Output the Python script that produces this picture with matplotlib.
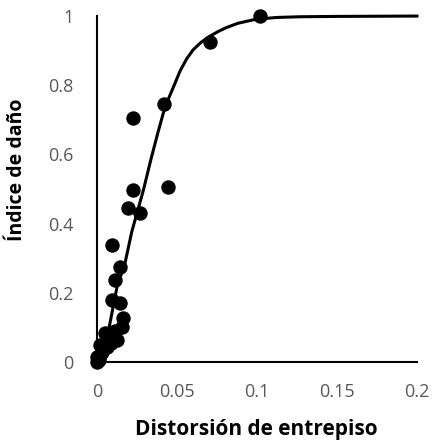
import matplotlib.pyplot as plt

# measured points: story drift vs damage index
drift = [0.102, 0.0706, 0.042, 0.0444, 0.0225, 0.0225, 0.0269, 0.0194,
         0.0094, 0.0144, 0.0112, 0.0094, 0.0144, 0.0162, 0.0156, 0.0115,
         0.010, 0.005, 0.0075, 0.0019, 0.003, 0.0, 0.001, 0.004, 0.0065,
         0.009, 0.002, 0.0, 0.0125]
damage = [1.0, 0.925, 0.746, 0.506, 0.705, 0.497, 0.431, 0.445,
          0.338, 0.275, 0.237, 0.179, 0.171, 0.127, 0.101, 0.09,
          0.072, 0.084, 0.06, 0.049, 0.03, 0.014, 0.005, 0.04, 0.045,
          0.055, 0.02, 0.0, 0.065]

# fitted curve
curve_x = [0.0, 0.005, 0.008, 0.0125, 0.0175, 0.0217, 0.029, 0.0336,
           0.038, 0.0425, 0.0475, 0.052, 0.056, 0.060, 0.065, 0.0706,
           0.076, 0.081, 0.088, 0.0975, 0.105, 0.1125, 0.127, 0.15, 0.2]
curve_y = [0.0, 0.05, 0.11, 0.217, 0.286, 0.376, 0.497, 0.584,
           0.662, 0.737, 0.792, 0.842, 0.876, 0.902, 0.924, 0.942,
           0.956, 0.967, 0.979, 0.989, 0.993, 0.996, 0.998, 0.999, 1.0]

xticks = [0, 0.05, 0.1, 0.15, 0.2]
xlabels = ['0', '0.05', '0.1', '0.15', '0.2']
yticks = [0, 0.2, 0.4, 0.6, 0.8, 1]
ylabels = ['0', '0.2', '0.4', '0.6', '0.8', '1']

plt.rcParams['font.family'] = ['Open Sans', 'DejaVu Sans']

fig = plt.figure(figsize=(4.33, 4.46), dpi=100)
ax = fig.add_axes([0.224, 0.188, 0.739, 0.776])

ax.plot(curve_x, curve_y, color='black', lw=2.2, solid_joinstyle='round', clip_on=False)
ax.scatter(drift, damage, s=88, color='black', zorder=3, clip_on=False)

ax.set_xlim(0, 0.2)
ax.set_ylim(0, 1)
ax.set_xticks(xticks)
ax.set_xticklabels(xlabels)
ax.set_yticks(yticks)
ax.set_yticklabels(ylabels)
ax.tick_params(length=0, labelsize=13, labelcolor='#595959')
ax.tick_params(axis='x', pad=15)
ax.tick_params(axis='y', pad=17)

for s in ['top', 'right']:
    ax.spines[s].set_visible(False)
for s in ['left', 'bottom']:
    ax.spines[s].set_linewidth(1.5)
    ax.spines[s].set_color('black')

ax.set_xlabel('Distorsión de entrepiso', fontsize=15, fontweight='bold')
ax.xaxis.set_label_coords(0.497, -0.165)
ax.set_ylabel('Índice de daño', fontsize=14, fontweight='bold', va='center')
ax.yaxis.set_label_coords(-0.25, 0.555)

fig.savefig('out.png', dpi=100)
